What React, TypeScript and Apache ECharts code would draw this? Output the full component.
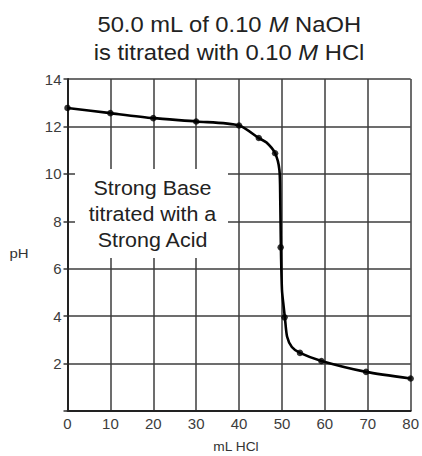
import React, { useEffect, useRef } from "react";
import * as echarts from "echarts";

// marked measurement points
const volumeHCl = [0, 10, 20, 30, 40, 44.6, 48.4, 49.7, 50.6, 54.2, 59.2, 69.6, 80];
const pHValues = [12.78, 12.56, 12.35, 12.21, 12.04, 11.51, 10.87, 6.9, 3.95, 2.45, 2.11, 1.65, 1.37];
// drawn titration curve
const curveVolume = [0, 10, 20, 30, 40, 44.6, 46.4, 48.4, 49.4, 49.6, 49.75, 50.0, 50.4, 50.7, 51.2, 52.3, 54.2, 59.2, 69.6, 80];
const curvePH = [12.78, 12.56, 12.35, 12.21, 12.04, 11.51, 11.32, 10.87, 10.17, 8.9, 6.9, 5.1, 4.39, 3.9, 3.13, 2.7, 2.45, 2.11, 1.65, 1.37];
const xTicks = { min: 0, max: 80, interval: 10 };
const yTicks = { min: 0, max: 14, interval: 2 };
const titleLines = ["50.0 mL of 0.10 ", "M", " NaOH", "is titrated with 0.10 ", "M", " HCl"];
const boxLines = ["Strong Base", "titrated with a", "Strong Acid"];

const FONT = "'Liberation Sans', Arial, sans-serif";

export default function App() {
  const ref = useRef<HTMLDivElement>(null);
  useEffect(() => {
    if (!ref.current) return;
    const chart = echarts.init(ref.current, null, { renderer: "svg" });
    const points = volumeHCl.map((v, i) => [v, pHValues[i]]);
    const curve = curveVolume.map((v, i) => [v, curvePH[i]]);
    chart.setOption({
      animation: false,
      backgroundColor: "#ffffff",
      textStyle: { fontFamily: FONT },
      grid: { left: 67.5, right: 11, top: 79, bottom: 45, containLabel: false },
      xAxis: {
        type: "value",
        min: xTicks.min,
        max: xTicks.max,
        interval: xTicks.interval,
        axisLine: { show: true, lineStyle: { color: "#222", width: 2 } },
        axisTick: { show: false },
        axisLabel: { fontSize: 15, color: "#3c3c3c", margin: 5, fontFamily: FONT },
        splitLine: { show: true, lineStyle: { color: "#3c3c3c", width: 1.5 } },
      },
      yAxis: {
        type: "value",
        min: yTicks.min,
        max: yTicks.max,
        interval: yTicks.interval,
        axisLine: { show: true, lineStyle: { color: "#222", width: 2 } },
        axisTick: { show: true, length: 4, lineStyle: { color: "#333", width: 1.5 } },
        axisLabel: {
          fontSize: 15,
          color: "#3c3c3c",
          margin: 6,
          fontFamily: FONT,
          formatter: (v: number) => (v === 0 ? "" : String(v)),
        },
        splitLine: { show: true, lineStyle: { color: "#3c3c3c", width: 1.5 } },
      },
      series: [
        {
          type: "line",
          data: curve,
          smooth: 0.25,
          showSymbol: false,
          symbol: "none",
          lineStyle: { color: "#000", width: 2.6 },
          z: 5,
        },
        {
          type: "scatter",
          data: points,
          symbol: "circle",
          symbolSize: 6.5,
          itemStyle: { color: "#000" },
          z: 6,
        },
      ],
      graphic: [
        {
          type: "text",
          x: 229,
          y: 10,
          z: 100,
          scaleX: 1.08,
          style: {
            text: `{a|${titleLines[0]}}{i|${titleLines[1]}}{a|${titleLines[2]}}\n{a|${titleLines[3]}}{i|${titleLines[4]}}{a|${titleLines[5]}}`,
            textAlign: "center",
            textVerticalAlign: "top",
            rich: {
              a: { fontSize: 22, fontFamily: FONT, fill: "#222", lineHeight: 28 },
              i: { fontSize: 22, fontFamily: FONT, fontStyle: "italic", fill: "#222", lineHeight: 28 },
            },
          },
        },
        {
          type: "rect",
          z: 100,
          shape: { x: 75, y: 169, width: 153, height: 89 },
          style: { fill: "#ffffff" },
        },
        {
          type: "text",
          z: 101,
          x: 152.5,
          y: 214,
          scaleX: 1.1,
          style: {
            text: boxLines.join("\n"),
            fontSize: 19.5,
            lineHeight: 26,
            fontFamily: FONT,
            fill: "#222",
            textAlign: "center",
            textVerticalAlign: "middle",
          },
        },
        {
          type: "text",
          z: 101,
          x: 19,
          y: 254,
          scaleX: 1.2,
          style: {
            text: "pH",
            fontSize: 12.5,
            fontFamily: FONT,
            fill: "#333",
            textAlign: "center",
            textVerticalAlign: "middle",
          },
        },
        {
          type: "text",
          z: 101,
          x: 236,
          y: 447,
          scaleX: 1.1,
          style: {
            text: "mL HCl",
            fontSize: 12.5,
            fontFamily: FONT,
            fill: "#333",
            textAlign: "center",
            textVerticalAlign: "middle",
          },
        },
      ],
    });
    return () => chart.dispose();
  }, []);
  return <div ref={ref} style={{ width: 422, height: 456, position: "absolute", left: 0, top: 0 }} />;
}
